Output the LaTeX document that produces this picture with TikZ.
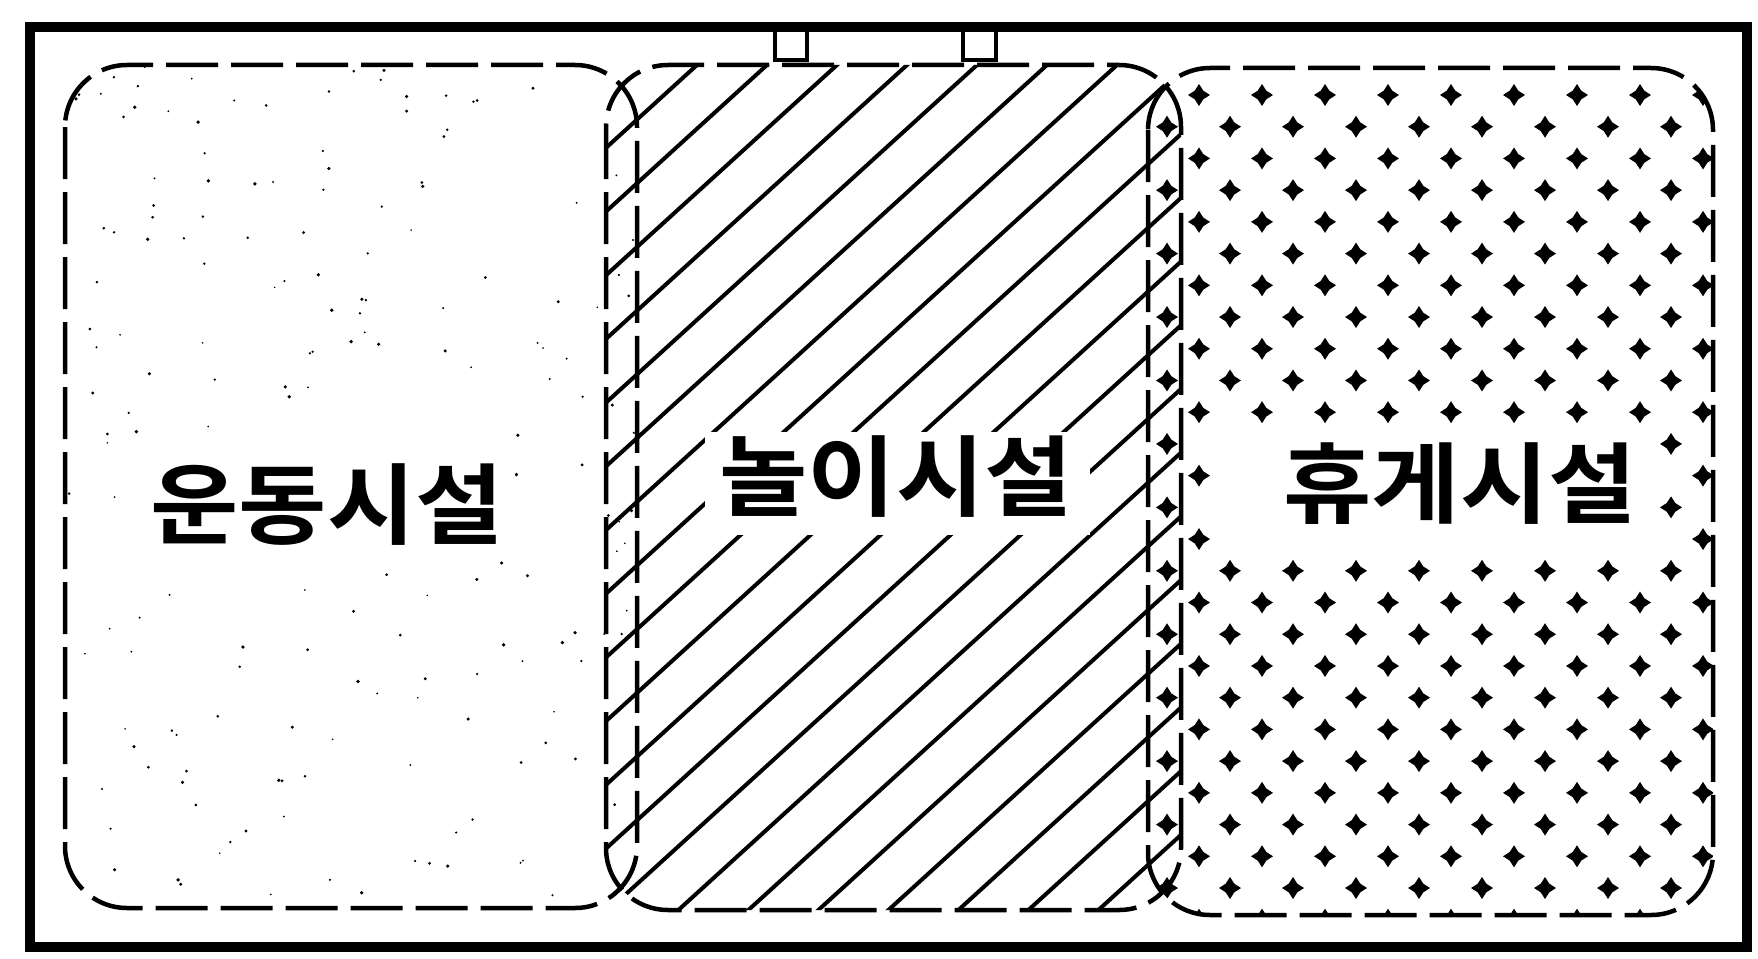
\documentclass[tikz,border=0pt]{standalone}
\usepackage{fontspec}
\newfontfamily\kr{Noto Sans CJK KR}[BoldFont={Noto Sans CJK KR Bold}, BoldFeatures={FakeStretch=1.09}]
\tikzset{
  frameline/.style={line width=10pt},
  zone/.style={line width=4.5pt, dash pattern=on 52pt off 13pt, rounded corners=62pt},
  hatchline/.style={line width=4pt},
  plusmark/.style={fill=black},
  gate/.style={line width=4pt, fill=white},
  zonelabel/.style={font=\kr\bfseries\fontsize{88}{88}\selectfont, inner sep=0pt},
  blank/.style={fill=white},
}
\begin{document}
\begin{tikzpicture}[x=1pt,y=-1pt]
\useasboundingbox (0,0) rectangle (1758,958);
% speckle of the sports zone
\begin{scope}
  \clip[rounded corners=62pt] (65,65) rectangle (637,908);
  \pgfmathsetseed{42}
  \foreach \i in {1,...,190}{
    \pgfmathsetmacro{\px}{65+572*rnd}
    \pgfmathsetmacro{\py}{65+843*rnd}
    \pgfmathsetmacro{\pr}{0.8+1.1*rnd}
    \fill (\px,\py) circle[radius=\pr];
  }
\end{scope}
% hatching of the play zone
\begin{scope}
  \clip[rounded corners=62pt] (606,65) rectangle (1181,910);
  \foreach \k in {-2,...,21}{
    \pgfmathsetmacro{\xt}{697+70*\k}
    \draw[hatchline] (\xt+100,-26) -- (\xt-1100,1066);
  }
\end{scope}
% plus pattern of the rest zone
\begin{scope}
  \clip[rounded corners=62pt] (1148,68) rectangle (1713,915);
  \foreach \n in {0,...,26}{
    \pgfmathsetmacro{\yy}{95+31.72*\n}
    \pgfmathsetmacro{\xo}{mod(\n,2)==1 ? 1167 : 1199}
    \foreach \m in {0,...,9}{
      \fill[plusmark] ({\xo+63*\m},\yy) +(0,-11) -- +(4.3,-4.3) -- +(11,0) -- +(4.3,4.3) -- +(0,11) -- +(-4.3,4.3) -- +(-11,0) -- +(-4.3,-4.3) -- cycle;
    }
  }
\end{scope}
% blank areas behind labels
\fill[blank] (140,450) rectangle (515,560);
\fill[blank] (705,432) rectangle (1090,535);
\fill[blank] (1215,428) rectangle (1655,556);
% zone outlines
\draw[zone] (65,65) rectangle (637,908);
\draw[zone] (606,65) rectangle (1181,910);
\draw[zone] (1148,68) rectangle (1713,915);
% outer frame and gates
\draw[frameline] (30,27) rectangle (1747,947);
\draw[gate] (775,30) rectangle (807,60);
\draw[gate] (963,30) rectangle (996,60);
% labels
\node[zonelabel] (sport) at (327,505) {운동시설};
\node[zonelabel] (play) at (896,477) {놀이시설};
\node[zonelabel] (rest) at (1460,484) {휴게시설};
\end{tikzpicture}
\end{document}
